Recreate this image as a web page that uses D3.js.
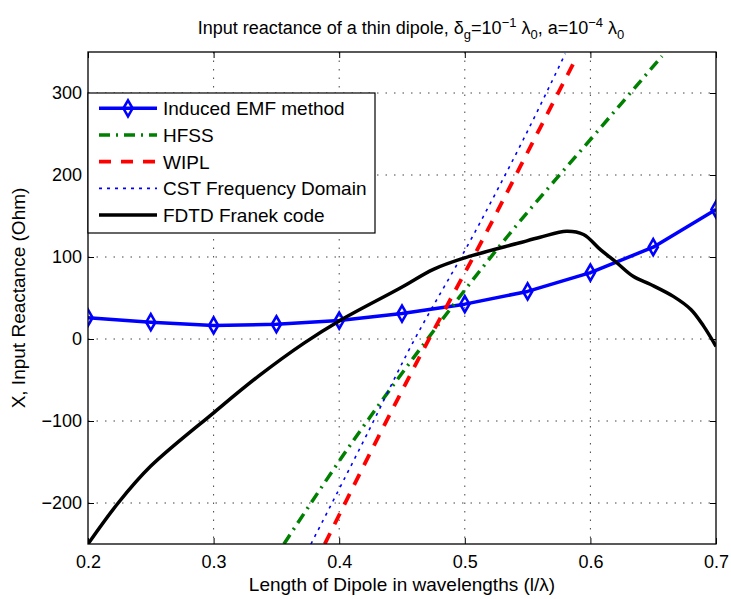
<!DOCTYPE html>
<html>
<head>
<meta charset="utf-8">
<script src="https://cdn.jsdelivr.net/npm/d3@7"></script>
<style>
  body { margin: 0; background: #fff; }
  svg { display: block; font-family: 'Liberation Sans', Arial, Helvetica, sans-serif; }
  .grid line { stroke: #444; stroke-width: 1; stroke-dasharray: 1.5,7; }
  .axis text { font-size: 18px; fill: #000; }
  .axis line { stroke: #000; }
</style>
</head>
<body>
<div id="chart"></div>
<script>
// Induced EMF method, sampled every 0.05 wavelengths
const emfLength = [0.2, 0.25, 0.3, 0.35, 0.4, 0.45, 0.5, 0.55, 0.6, 0.65, 0.7];
const emfReactance = [26, 20.5, 16.5, 18, 22.5, 31, 42.5, 58, 81, 112, 158];

// HFSS
const hfssLength = [0.356, 0.4126, 0.4591, 0.5339, 0.6055, 0.657];
const hfssReactance = [-250, -121, -23, 125, 253, 345];

// WIPL
const wiplLength = [0.3885, 0.4313, 0.4643, 0.5177, 0.56, 0.5885];
const wiplReactance = [-250, -119, -21, 131.5, 257.6, 342];

// CST frequency domain
const cstLength = [0.3775, 0.422, 0.455, 0.5075, 0.5465, 0.58];
const cstReactance = [-250, -116.5, -15, 128.7, 243, 348];

// FDTD Franek code
const fdtdLength = [0.2, 0.224, 0.25, 0.3, 0.336, 0.372, 0.4, 0.449, 0.475, 0.5,
  0.543, 0.56, 0.581, 0.5945, 0.608, 0.621, 0.634, 0.648, 0.666, 0.68, 0.69, 0.7];
const fdtdReactance = [-250, -200, -155, -90, -45, -5, 22, 62.5, 85, 99,
  117, 124, 131.5, 127.5, 109, 93, 76.5, 66.5, 52, 36, 16, -9];

const xTicks = [0.2, 0.3, 0.4, 0.5, 0.6, 0.7];
const yTicks = [-200, -100, 0, 100, 200, 300];

const seriesNames = ['Induced EMF method', 'HFSS', 'WIPL', 'CST Frequency Domain', 'FDTD Franek code'];

class ReactanceChart {
  constructor(_config) {
    this.config = {
      parentElement: _config.parentElement,
      containerWidth: 731,
      containerHeight: 599,
      margin: {
        top: 52, right: 15, bottom: 55, left: 88,
      },
    };
    this.series = [
      { name: seriesNames[0], x: emfLength, y: emfReactance, color: '#0000ff', width: 3.5, dash: null, markers: true, curve: d3.curveLinear },
      { name: seriesNames[1], x: hfssLength, y: hfssReactance, color: '#008000', width: 3.5, dash: '11,6,2,6', curve: d3.curveMonotoneX },
      { name: seriesNames[2], x: wiplLength, y: wiplReactance, color: '#ff0000', width: 3.8, dash: '12,10', curve: d3.curveMonotoneX },
      { name: seriesNames[3], x: cstLength, y: cstReactance, color: '#0000ff', width: 1.6, dash: '3,5', curve: d3.curveMonotoneX },
      { name: seriesNames[4], x: fdtdLength, y: fdtdReactance, color: '#000000', width: 3.5, dash: null, curve: d3.curveCatmullRom.alpha(0.5) },
    ];
    this.initVis();
  }

  initVis() {
    const vis = this;
    const { margin } = vis.config;
    vis.width = vis.config.containerWidth - margin.left - margin.right;
    vis.height = vis.config.containerHeight - margin.top - margin.bottom;

    vis.svg = d3.select(vis.config.parentElement).append('svg')
      .attr('width', vis.config.containerWidth)
      .attr('height', vis.config.containerHeight);

    vis.chart = vis.svg.append('g')
      .attr('transform', `translate(${margin.left},${margin.top})`);

    vis.xScale = d3.scaleLinear().domain([0.2, 0.7]).range([0, vis.width]);
    vis.yScale = d3.scaleLinear().domain([-250, 350]).range([vis.height, 0]);

    vis.svg.append('defs').append('clipPath')
      .attr('id', 'plot-clip')
      .append('rect')
      .attr('width', vis.width)
      .attr('height', vis.height);

    vis.renderVis();
  }

  renderVis() {
    const vis = this;
    const { margin } = vis.config;

    // Dotted grid
    const grid = vis.chart.append('g').attr('class', 'grid');
    grid.selectAll('.vgrid').data(xTicks.slice(1, -1)).join('line')
      .attr('x1', (d) => vis.xScale(d)).attr('x2', (d) => vis.xScale(d))
      .attr('y1', 0).attr('y2', vis.height);
    grid.selectAll('.hgrid').data(yTicks).join('line')
      .attr('x1', 0).attr('x2', vis.width)
      .attr('y1', (d) => vis.yScale(d)).attr('y2', (d) => vis.yScale(d));

    // Axes, ticks pointing inwards like MATLAB
    const fmtX = d3.format('.1f');
    vis.chart.append('g').attr('class', 'axis')
      .attr('transform', `translate(0,${vis.height})`)
      .call(d3.axisBottom(vis.xScale).tickValues(xTicks).tickFormat(fmtX)
        .tickSize(-6).tickSizeOuter(0).tickPadding(11));
    vis.chart.append('g').attr('class', 'axis')
      .call(d3.axisTop(vis.xScale).tickValues(xTicks).tickFormat('')
        .tickSize(-6).tickSizeOuter(0));
    vis.chart.append('g').attr('class', 'axis')
      .call(d3.axisLeft(vis.yScale).tickValues(yTicks)
        .tickSize(-6).tickSizeOuter(0).tickPadding(6));
    vis.chart.append('g').attr('class', 'axis')
      .attr('transform', `translate(${vis.width},0)`)
      .call(d3.axisRight(vis.yScale).tickValues(yTicks).tickFormat('')
        .tickSize(-6).tickSizeOuter(0));
    vis.chart.selectAll('.axis .domain').remove();

    // Series
    const plot = vis.chart.append('g').attr('clip-path', 'url(#plot-clip)');
    vis.series.forEach((s) => {
      const pts = s.x.map((x, i) => [x, s.y[i]]);
      const line = d3.line()
        .x((d) => vis.xScale(d[0]))
        .y((d) => vis.yScale(d[1]))
        .curve(s.curve);
      plot.append('path')
        .datum(pts)
        .attr('fill', 'none')
        .attr('stroke', s.color)
        .attr('stroke-width', s.width)
        .attr('stroke-dasharray', s.dash)
        .attr('stroke-linejoin', 'round')
        .attr('d', line);
      if (s.markers) {
        plot.selectAll(null).data(pts).join('path')
          .attr('transform', (d) => `translate(${vis.xScale(d[0])},${vis.yScale(d[1])})`)
          .attr('d', 'M0,-8L4.6,0L0,8L-4.6,0Z')
          .attr('fill', 'none')
          .attr('stroke', s.color)
          .attr('stroke-width', 2.6);
      }
    });

    // Box around the axes
    vis.chart.append('rect')
      .attr('width', vis.width)
      .attr('height', vis.height)
      .attr('fill', 'none')
      .attr('stroke', '#000')
      .attr('stroke-width', 1.3);

    // Legend
    const legend = vis.svg.append('g').attr('transform', 'translate(88,93)');
    legend.append('rect')
      .attr('width', 287)
      .attr('height', 140)
      .attr('fill', '#fff')
      .attr('stroke', '#000')
      .attr('stroke-width', 1.2);
    const rows = legend.selectAll('.entry').data(vis.series).join('g')
      .attr('transform', (d, i) => `translate(0,${15.3 + i * 26.7})`);
    rows.append('line')
      .attr('x1', 11).attr('x2', 69)
      .attr('stroke', (d) => d.color)
      .attr('stroke-width', (d) => d.width)
      .attr('stroke-dasharray', (d) => d.dash);
    rows.filter((d) => d.markers).append('path')
      .attr('transform', 'translate(40,0)')
      .attr('d', 'M0,-8L4.6,0L0,8L-4.6,0Z')
      .attr('fill', 'none')
      .attr('stroke', (d) => d.color)
      .attr('stroke-width', 2.6);
    rows.append('text')
      .attr('x', 75)
      .attr('y', 6.8)
      .style('font-size', '19px')
      .text((d) => d.name);

    // Axis labels
    vis.svg.append('text')
      .attr('x', margin.left + vis.width / 2)
      .attr('y', 591)
      .attr('text-anchor', 'middle')
      .style('font-size', '19px')
      .text('Length of Dipole in wavelengths (l/λ)');

    vis.svg.append('text')
      .attr('transform', `translate(25,${margin.top + vis.height / 2}) rotate(-90)`)
      .attr('text-anchor', 'middle')
      .style('font-size', '19px')
      .text('X, Input Reactance (Ohm)');

    // Title with sub/superscripts
    const title = vis.svg.append('text')
      .attr('x', 411)
      .attr('y', 34)
      .attr('text-anchor', 'middle')
      .style('font-size', '18px');
    title.append('tspan').text('Input reactance of a thin dipole, δ');
    title.append('tspan').attr('dy', 5).style('font-size', '13px').text('g');
    title.append('tspan').attr('dy', -5).text('=10');
    title.append('tspan').attr('dy', -7).style('font-size', '13px').text('−1');
    title.append('tspan').attr('dy', 7).text(' λ');
    title.append('tspan').attr('dy', 5).style('font-size', '13px').text('0');
    title.append('tspan').attr('dy', -5).text(', a=10');
    title.append('tspan').attr('dy', -7).style('font-size', '13px').text('−4');
    title.append('tspan').attr('dy', 7).text(' λ');
    title.append('tspan').attr('dy', 5).style('font-size', '13px').text('0');
  }
}

const chart = new ReactanceChart({ parentElement: '#chart' });
</script>
</body>
</html>
